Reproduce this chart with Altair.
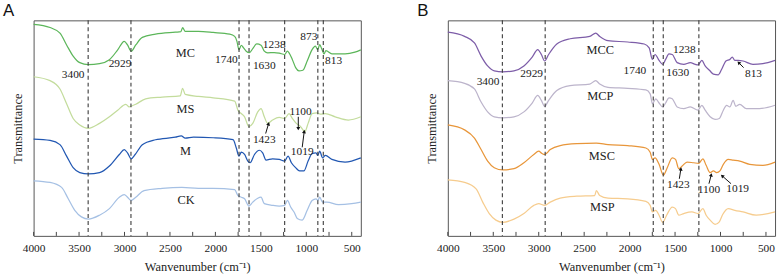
import math
import altair as alt
import pandas as pd

# ---------------- Panel A spectra (wavenumber cm-1, offset transmittance) ----------------
MC_wn = [4000, 3819, 3710, 3637, 3565, 3492, 3398, 3275, 3166, 3075, 3003, 2967, 2927, 2876, 2804, 2659, 2441, 2380, 2361, 2332,
         2187, 2024, 1842, 1788, 1763, 1741, 1715, 1690, 1661, 1625, 1589, 1545, 1498, 1462, 1425, 1353, 1298, 1237, 1208, 1190,
         1154, 1117, 1081, 1038, 990, 936, 900, 874, 853, 827, 805, 784, 718, 574, 465, 400]
MC_t = [215, 211.7, 206, 194, 182.7, 176, 174, 175, 179, 189, 197.7, 194, 187.7, 194, 201.7, 205, 207, 207.5, 211.7, 207.7,
        207.7, 206.7, 205, 202.7, 197.7, 189.3, 193.7, 191, 187.7, 186.3, 190.3, 195, 193.7, 187.7, 186, 186.3, 185.7, 184.3, 187.7, 186,
        179.3, 171, 167.7, 168.3, 177.7, 189.3, 192.7, 189.3, 194.3, 189.3, 185, 188.3, 185, 185, 186.7, 189]

MS_wn = [4000, 3819, 3710, 3637, 3565, 3492, 3398, 3275, 3166, 3075, 2985, 2949, 2927, 2876, 2767, 2586, 2387, 2361, 2332, 2187,
         2024, 1788, 1752, 1715, 1679, 1632, 1589, 1534, 1498, 1462, 1425, 1371, 1298, 1237, 1190, 1154, 1110, 1063, 1016, 980,
         936, 882, 845, 791, 682, 537, 400]
MS_t = [161.7, 157.7, 149.3, 134.3, 119.3, 112.7, 109.3, 114.3, 121, 127.7, 133.7, 131, 131.7, 133.7, 139.3, 141, 142.3, 150, 143.7, 141.7,
        140.3, 137, 127.7, 124.3, 121, 111, 114.3, 126, 129.3, 121, 114.3, 117.7, 120.3, 119.3, 124.3, 119.3, 114.3, 111, 106, 114.3,
        124.3, 125, 123.7, 124.3, 121, 117.7, 121]

M_wn = [4000, 3819, 3710, 3637, 3565, 3492, 3398, 3275, 3166, 3057, 3003, 2967, 2927, 2883, 2804, 2659, 2441, 2376, 2332, 2241,
        2024, 1806, 1770, 1741, 1715, 1679, 1643, 1618, 1570, 1516, 1480, 1443, 1371, 1298, 1237, 1201, 1164, 1117, 1074, 1027,
        980, 936, 893, 874, 853, 820, 791, 718, 574, 400]
M_t = [98.3, 97, 92.7, 81, 69.3, 64.3, 63, 64.3, 71, 82.7, 87.7, 84.3, 78.3, 82.7, 92.7, 97.7, 100.3, 101.7, 99.3, 100.3,
       99.7, 97.7, 89.3, 81, 85, 82.7, 76, 74.3, 82.7, 87, 84.3, 77, 78.3, 77.7, 76, 81, 74.3, 69.3, 66, 66,
       76, 83.7, 84.3, 81.7, 86, 79.3, 81.7, 77.7, 75, 79.3]

CK_wn = [4000, 3819, 3692, 3619, 3547, 3474, 3398, 3275, 3166, 3057, 3003, 2967, 2927, 2876, 2785, 2586, 2369, 2187, 2024, 1788,
         1752, 1715, 1679, 1632, 1589, 1534, 1498, 1462, 1371, 1298, 1237, 1208, 1172, 1135, 1099, 1045, 990, 936, 893, 871,
         853, 820, 773, 646, 501, 400]
CK_t = [56, 54.3, 49.3, 37.7, 26, 19.3, 17, 21, 27.7, 39.3, 42, 39.3, 36, 39.3, 46, 48.3, 49.3, 48.3, 48.3, 47,
        41, 39.3, 37.7, 30.3, 34.3, 38.3, 39.3, 32.7, 31, 30.3, 31, 36, 29.3, 24.3, 17.7, 16, 26, 36, 37.7, 36,
        39.3, 34.3, 34.3, 31.7, 32.7, 34.3]

# ---------------- Panel B spectra ----------------
MCC_wn = [4000, 3816, 3707, 3634, 3562, 3489, 3395, 3272, 3163, 3072, 3011, 2971, 2935, 2891, 2801, 2655, 2438, 2373, 2329, 2238,
          2021, 1839, 1785, 1749, 1720, 1676, 1636, 1604, 1567, 1531, 1477, 1404, 1332, 1277, 1248, 1205, 1169, 1122, 1078, 1024,
          987, 940, 897, 871, 842, 806, 752, 643, 534, 400]
MCC_t = [207, 202.7, 196, 182.7, 172.7, 167.7, 166.7, 167.7, 172.7, 181.7, 189.3, 184.3, 177.7, 184.3, 195, 200.3, 202.7, 206, 202.7, 198.3,
         197, 195, 191, 179.3, 184.3, 178.3, 174.3, 179.3, 185, 184.3, 176, 174.3, 176, 174.3, 173.7, 178.3, 172.7, 168.3, 164.3, 163.7,
         169.3, 177.7, 179.3, 181.7, 178.3, 178.3, 177.7, 174.3, 175, 178.3]

MCP_wn = [4000, 3816, 3707, 3634, 3562, 3489, 3395, 3272, 3163, 3072, 3011, 2971, 2935, 2891, 2801, 2655, 2438, 2373, 2329, 2238,
          2021, 1821, 1774, 1749, 1712, 1676, 1636, 1604, 1567, 1531, 1477, 1404, 1332, 1248, 1205, 1169, 1114, 1060, 1013, 969,
          933, 897, 861, 832, 788, 716, 571, 400]
MCP_t = [157.7, 155, 149.3, 136, 126, 121, 120, 121, 126, 135, 142.7, 137.7, 131.7, 137.7, 147.7, 152.7, 154.3, 157.7, 154.3, 151,
         150, 148.3, 144.3, 134.3, 139.3, 135, 131, 135, 140.3, 139.3, 131, 129.3, 131, 127.7, 132.7, 127.7, 121, 118.3, 119.3, 127.7,
         132.7, 131, 137.7, 131.7, 133.7, 129.3, 129.3, 132.7]

MSC_wn = [4000, 3816, 3707, 3634, 3562, 3489, 3395, 3272, 3163, 3054, 3000, 2964, 2935, 2873, 2764, 2583, 2366, 2238, 2021, 1821,
          1774, 1749, 1720, 1676, 1629, 1586, 1531, 1495, 1459, 1422, 1368, 1296, 1241, 1194, 1158, 1114, 1078, 1042, 1006, 969,
          915, 861, 788, 679, 534, 400]
MSC_t = [112.7, 107.7, 99.3, 87.7, 76, 69.3, 67, 68.3, 74.3, 82.7, 86, 83.7, 82.7, 87.7, 91.7, 93.7, 94.3, 92.7, 91.7, 89.3,
         85, 77.7, 79.3, 72.7, 61.7, 69.3, 79.3, 77.7, 68.3, 71, 75, 74.3, 73.7, 78.3, 71.7, 64.3, 66, 64.3, 66, 72.7,
         77.7, 77, 76, 72.7, 71.7, 75]

MSP_wn = [4000, 3816, 3689, 3616, 3544, 3471, 3395, 3272, 3163, 3054, 3000, 2935, 2873, 2764, 2583, 2384, 2366, 2329, 2238, 2021,
          1821, 1774, 1749, 1712, 1676, 1636, 1593, 1531, 1495, 1459, 1404, 1314, 1248, 1194, 1158, 1114, 1060, 1013, 976, 915,
          842, 752, 607, 400]
MSP_t = [57, 54.3, 47.7, 34.3, 22.7, 16, 13.7, 17, 22.7, 31, 32.7, 31, 34.3, 38.3, 40.3, 41, 46, 41, 38.3, 37.7,
         35, 31, 24.3, 26, 21, 13.7, 21, 29.3, 27.7, 21, 22.7, 24.3, 22.7, 27.7, 21, 16, 11.7, 14.3, 21.7, 27.7,
         26, 24.3, 21, 24.3]

# ---------------- Series names / colours ----------------
A_series = ["MC", "MS", "M", "CK"]
A_colors = ["#5cb65a", "#c3dc9c", "#2157b2", "#a5c0e4"]
B_series = ["MCC", "MCP", "MSC", "MSP"]
B_colors = ["#7d5da8", "#bcb4cb", "#e8963a", "#f6cc8e"]

# ---------------- Reference lines ----------------
A_dash = [3400, 2929, 1740, 1630, 1238, 873, 813]
B_dash = [3400, 2929, 1740, 1630, 1238]

# ---------------- Axis ticks ----------------
major_ticks = [4000, 3500, 3000, 2500, 2000, 1500, 1000, 500]
all_ticks = [4000, 3750, 3500, 3250, 3000, 2750, 2500, 2250, 2000, 1750, 1500, 1250, 1000, 750, 500]

# ---------------- Curve labels ----------------
A_lab_wn = [2330, 2330, 2330, 2322]
A_lab_t = [186, 129, 86, 36]
B_lab_wn = [2323, 2323, 2305, 2300]
B_lab_t = [189, 142, 81, 29]

# ---------------- Band annotations ----------------
A_ann_text = ["3400", "2929", "1740", "1630", "1238", "873", "813", "1423", "1100", "1019"]
A_ann_wn = [3565, 3049, 1879, 1462, 1353, 972, 700, 1462, 1063, 1045]
A_ann_t = [163, 175, 179, 173, 194, 202, 178, 97, 126, 85]
B_ann_text = ["3400", "2929", "1740", "1630", "1238", "813", "1423", "1100", "1019"]
B_ann_wn = [3558, 3078, 1942, 1471, 1398, 637, 1464, 1127, 811]
B_ann_t = [156, 164, 168, 165, 189, 164, 52, 47, 48]

# arrows: tail (wn, t) -> head (wn2, t2)
A_arr_wn = [1447, 1088, 1045]
A_arr_t = [104, 121, 90]
A_arr_wn2 = [1415, 1088, 1023]
A_arr_t2 = [114, 109, 106]
B_arr_wn = [746, 1453, 1127, 884]
B_arr_t = [171, 58, 53, 53]
B_arr_wn2 = [800, 1436, 1102, 982]
B_arr_t2 = [176, 68, 62, 61]

W, H = 331, 218
XDOM = [4000, 400]
YDOM = [0, 219]
SERIF = "Liberation Serif, Times New Roman, serif"
SANS = "Liberation Sans, Arial, sans-serif"


def build_panel(series, colors, wns, ts, dash, lab_wn, lab_t, ann_text, ann_wn, ann_t,
                arr_wn, arr_t, arr_wn2, arr_t2, letter):
    rows = []
    for s, w, t in zip(series, wns, ts):
        for i, (a, b) in enumerate(zip(w, t)):
            rows.append({"wn": a, "t": b, "series": s, "i": i})
    df = pd.DataFrame(rows)

    x = alt.X("wn:Q", scale=alt.Scale(domain=XDOM, nice=False, zero=False),
              axis=alt.Axis(values=major_ticks, format="d", tickSize=0, labelPadding=7,
                            labelFlush=False, labelOverlap=False,
                            domain=False, grid=False, title="Wanvenumber (cm⁻¹)",
                            titlePadding=7, labelFont=SERIF, labelFontSize=11.5,
                            titleFont=SERIF, titleFontSize=12.5, titleFontWeight="normal",
                            labelColor="#222", titleColor="#222"))
    y = alt.Y("t:Q", scale=alt.Scale(domain=YDOM, nice=False, zero=False),
              axis=alt.Axis(labels=False, ticks=False, domain=False, grid=False,
                            title="Transmittance", titlePadding=9, titleFont=SERIF,
                            titleFontSize=12.5, titleFontWeight="normal", titleColor="#222"))

    lines = alt.Chart(df).mark_line(strokeWidth=1.25, interpolate="monotone").encode(
        x=x, y=y,
        color=alt.Color("series:N", scale=alt.Scale(domain=series, range=colors), legend=None),
        order="i:Q",
    )

    dash_df = pd.DataFrame({"wn": dash})
    dashes = alt.Chart(dash_df).mark_rule(color="#3a3a3a", strokeWidth=1.1, strokeDash=[4, 3]).encode(x=x)

    tick_df = pd.DataFrame({"wn": all_ticks})
    ticks = alt.Chart(tick_df).mark_rule(color="#444", strokeWidth=1).encode(
        x=x, y=alt.value(H), y2=alt.value(H - 4))

    lab_df = pd.DataFrame({"wn": lab_wn, "t": lab_t, "txt": series})
    labels = alt.Chart(lab_df).mark_text(font=SERIF, fontSize=12.5, color="#222").encode(
        x=x, y=y, text="txt:N")

    ann_df = pd.DataFrame({"wn": ann_wn, "t": ann_t, "txt": ann_text})
    anns = alt.Chart(ann_df).mark_text(font=SERIF, fontSize=11.5, color="#222").encode(
        x=x, y=y, text="txt:N")

    kx = W / (XDOM[0] - XDOM[1])
    ky = H / (YDOM[1] - YDOM[0])
    angs = []
    for a, b, c, d in zip(arr_wn, arr_t, arr_wn2, arr_t2):
        dx = (a - c) * kx
        dy = -(d - b) * ky
        angs.append(math.degrees(math.atan2(dx, -dy)) % 360)
    arr_df = pd.DataFrame({"wn": arr_wn, "t": arr_t, "wn2": arr_wn2, "t2": arr_t2, "ang": angs})
    shafts = alt.Chart(arr_df).mark_rule(color="#111", strokeWidth=1).encode(
        x=x, y=y, x2="wn2:Q", y2="t2:Q")
    heads = alt.Chart(arr_df).mark_point(shape="triangle-up", filled=True, size=16,
                                          color="#111", opacity=1).encode(
        x=alt.X("wn2:Q"), y=alt.Y("t2:Q"), angle=alt.Angle("ang:Q", scale=None))

    let_df = pd.DataFrame({"txt": [letter]})
    let = alt.Chart(let_df).mark_text(font=SANS, fontSize=17, align="left", baseline="top",
                                      color="#111", clip=False).encode(
        x=alt.value(-31), y=alt.value(-17), text="txt:N")

    return alt.layer(lines, dashes, ticks, labels, anns, shafts, heads, let).properties(
        width=W, height=H)


pa = build_panel(A_series, A_colors, [MC_wn, MS_wn, M_wn, CK_wn], [MC_t, MS_t, M_t, CK_t],
                 A_dash, A_lab_wn, A_lab_t, A_ann_text, A_ann_wn, A_ann_t,
                 A_arr_wn, A_arr_t, A_arr_wn2, A_arr_t2, "A")
pb = build_panel(B_series, B_colors, [MCC_wn, MCP_wn, MSC_wn, MSP_wn], [MCC_t, MCP_t, MSC_t, MSP_t],
                 B_dash, B_lab_wn, B_lab_t, B_ann_text, B_ann_wn, B_ann_t,
                 B_arr_wn, B_arr_t, B_arr_wn2, B_arr_t2, "B")

chart = alt.hconcat(pa, pb, spacing=53).resolve_scale(
    color="independent", x="independent", y="independent"
).properties(
    padding={"left": 2, "top": 0, "right": 1, "bottom": 0},
    background="white",
).configure_view(stroke="#555", strokeWidth=1)

chart.save("out.html", embed_options={"renderer": "svg", "actions": False})
